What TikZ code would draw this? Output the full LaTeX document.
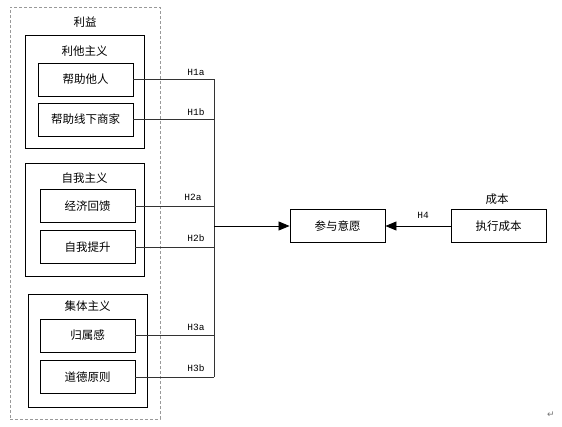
\documentclass[tikz,border=0pt]{standalone}
\usepackage{fontspec}
\setmainfont{Noto Sans CJK SC}
\newfontfamily\hmono{Liberation Mono}
\newfontfamily\symfont{DejaVu Sans}
\usetikzlibrary{arrows.meta}
\begin{document}
\begin{tikzpicture}[x=1pt,y=-1pt,
  itembox/.style={draw=black, line width=0.9pt, minimum width=95pt, minimum height=33pt, inner sep=0pt, font=\fontsize{11.5}{13}\selectfont},
  groupbox/.style={draw=black, line width=0.9pt, minimum width=119pt, minimum height=113pt, inner sep=0pt},
  grouptitle/.style={inner sep=0pt, font=\fontsize{11.5}{13}\selectfont},
  hlabel/.style={inner sep=0pt, font=\hmono\fontsize{9.5}{11}\selectfont},
  link/.style={draw=black!80, line width=0.8pt},
  arrowtip/.style={-{Triangle[length=11pt,width=9pt]}}
]
\useasboundingbox (0,0) rectangle (562,427);
% outer dashed box
\node[draw=black!40, dashed, dash pattern=on 3pt off 2pt, line width=0.6pt, minimum width=150pt, minimum height=412pt, inner sep=0pt] (outer) at (85,213) {};
\node[grouptitle] (benefit) at (85,22) {利益};
% group 1
\node[groupbox] (g1) at (84.5,91.5) {};
\node[grouptitle] (g1t) at (84.5,51) {利他主义};
\node[itembox] (a1) at (85.5,79.5) {帮助他人};
\node[itembox] (a2) at (85.5,119.5) {帮助线下商家};
% group 2
\node[groupbox] (g2) at (84.5,219.5) {};
\node[grouptitle] (g2t) at (84.5,178) {自我主义};
\node[itembox] (b1) at (87.5,206) {经济回馈};
\node[itembox] (b2) at (87.5,247) {自我提升};
% group 3
\node[groupbox] (g3) at (87.5,350.5) {};
\node[grouptitle] (g3t) at (87.5,306) {集体主义};
\node[itembox] (c1) at (87.5,335.5) {归属感};
\node[itembox] (c2) at (87.5,377) {道德原则};
% right side
\node[itembox] (pv) at (337.5,226) {参与意愿};
\node[itembox] (cost) at (498.5,226) {执行成本};
\node[grouptitle] (costt) at (497,199) {成本};
% junction line
\coordinate (vx) at (214,0);
\coordinate (mid) at (214,226);
\draw[link] (a1.east) -- (a1.east -| vx);
\draw[link] (a2.east) -- (a2.east -| vx);
\draw[link] (b1.east) -- (b1.east -| vx);
\draw[link] (b2.east) -- (b2.east -| vx);
\draw[link] (c1.east) -- (c1.east -| vx);
\draw[link] (c2.east) -- (c2.east -| vx);
\draw[link] (a1.east -| vx) -- (c2.east -| vx);
\draw[link, draw=black, arrowtip] (mid) -- (pv.west);
\draw[link, draw=black, arrowtip] (cost.west) -- (pv.east);
% labels
\node[hlabel] (h1a) at (196,72) {H1a};
\node[hlabel] (h1b) at (196,112) {H1b};
\node[hlabel] (h2a) at (193,197) {H2a};
\node[hlabel] (h2b) at (196,238) {H2b};
\node[hlabel] (h3a) at (196,327) {H3a};
\node[hlabel] (h3b) at (196,368) {H3b};
\node[hlabel] (h4) at (423,215) {H4};
\node[inner sep=0pt, text=black!55, font=\symfont\fontsize{9}{10}\selectfont] (pm) at (551,415) {↵};
\end{tikzpicture}
\end{document}
